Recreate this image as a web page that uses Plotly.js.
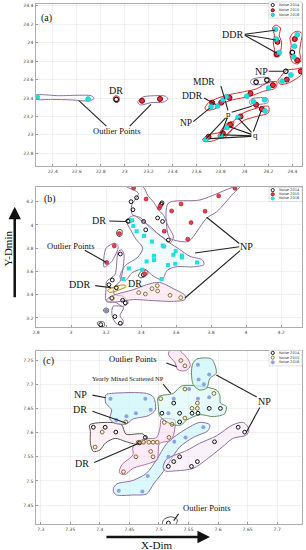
<!DOCTYPE html>
<html><head><meta charset="utf-8">
<script src="https://cdn.plot.ly/plotly-3.0.1.min.js"></script>
<style>html,body{margin:0;padding:0;background:#fff}#chart{width:306px;height:550px}</style>
</head><body><div id="chart"></div>
<script>
// ---------- Panel (a) data ----------
const aX2014 = [22.93, 24.40, 24.345, 24.097, 24.187];
const aY2014 = [23.385, 23.895, 23.69, 23.573, 23.595];
const aX2015 = [23.145, 23.295, 24.275, 24.27, 24.42, 24.44, 24.47, 24.353, 24.237, 24.05, 23.875, 24.097, 23.806, 23.73, 24.145, 23.967, 23.88, 23.82, 23.70];
const aY2015 = [23.37, 23.39, 24.01, 23.876, 24.04, 23.81, 23.69, 23.6, 23.54, 23.45, 23.403, 23.327, 23.35, 23.35, 23.28, 23.2, 23.11, 23.017, 22.98];
const aX2016 = [22.27, 22.695, 24.258, 24.264, 24.29, 24.44, 24.417, 24.41, 24.387, 24.314, 24.2, 24.02, 23.848, 23.82, 24.075, 24.167, 23.775, 23.72, 24.172, 23.945, 23.853, 23.806, 23.678];
const aY2016 = [23.41, 23.39, 24.144, 24.04, 23.895, 24.086, 23.963, 23.847, 23.65, 23.584, 23.51, 23.42, 23.414, 23.38, 23.36, 23.38, 23.313, 23.305, 23.26, 23.19, 23.08, 22.988, 22.95];
const aTicksX = [22.4, 22.6, 22.8, 23, 23.2, 23.4, 23.6, 23.8, 24, 24.2, 24.4];
const aTicksY = [22.8, 23, 23.2, 23.4, 23.6, 23.8, 24, 24.2, 24.4];

// ---------- Panel (b) data ----------
const bX2014 = [3.375, 3.343, 3.354, 3.326, 3.415, 3.427, 3.495, 3.523, 3.516, 3.556, 3.282, 3.217, 3.236, 3.259, 3.233, 3.295, 3.31, 3.251, 3.282, 3.17, 3.413, 3.52];
const bY2014 = [4.234, 4.2, 4.131, 4.032, 4.03, 3.958, 4.06, 4.03, 4.178, 3.87, 3.75, 3.486, 3.526, 3.46, 3.37, 3.352, 3.33, 3.212, 3.155, 3.143, 3.572, 4.19];
const bX2015 = [3.358, 3.429, 3.505, 3.575, 3.629, 3.766, 3.686, 3.533, 3.667, 3.844, 3.937, 3.276, 3.247, 3.204, 3.421, 3.51];
const bY2015 = [4.317, 4.223, 4.146, 4.12, 4.18, 4.118, 4.02, 3.946, 3.878, 4.25, 4.315, 3.926, 3.82, 3.677, 3.58, 4.165];
const bX2016 = [3.349, 3.356, 3.375, 3.417, 3.463, 3.524, 3.532, 3.598, 3.634, 3.634, 3.585, 3.474, 3.474, 3.432, 3.554, 3.596, 3.72, 3.33, 3.406, 3.299, 3.518];
const bY2016 = [4.04, 3.992, 3.946, 3.906, 3.857, 3.823, 3.815, 3.775, 3.737, 3.72, 3.743, 3.735, 3.698, 3.686, 3.655, 3.666, 3.677, 3.626, 3.615, 3.535, 3.535];
const bXolive = [3.493, 3.463, 3.495, 3.387, 3.425, 3.566, 3.627, 3.236];
const bYolive = [3.478, 3.452, 3.432, 3.418, 3.406, 3.395, 3.375, 3.37];
const bXblue = [3.2];
const bYblue = [3.263];
const bTicksX = [2.8, 3, 3.2, 3.4, 3.6, 3.8, 4, 4.2];
const bTicksY = [3.2, 3.4, 3.6, 3.8, 4, 4.2];

// ---------- Panel (c) data ----------
const cX2014 = [7.389, 7.409, 7.427, 7.477, 7.467, 7.535, 7.634, 7.645, 7.594, 7.535, 7.525, 7.516, 7.565, 7.555, 7.516, 7.525, 7.505, 7.535, 7.556, 7.566, 7.585, 7.604];
const cY2014 = [7.611, 7.611, 7.601, 7.59, 7.579, 7.622, 7.611, 7.601, 7.581, 7.55, 7.54, 7.53, 7.54, 7.53, 7.413, 7.661, 7.64, 7.64, 7.64, 7.64, 7.65, 7.65];
const cX2015 = [7.404, 7.392, 7.465, 7.474, 7.483, 7.49, 7.497, 7.486, 7.49, 7.461, 7.44, 7.509, 7.522, 7.517, 7.537, 7.544, 7.544, 7.593, 7.556, 7.565, 7.565, 7.544, 7.503, 7.444];
const cY2015 = [7.601, 7.57, 7.58, 7.58, 7.58, 7.58, 7.58, 7.561, 7.55, 7.55, 7.519, 7.621, 7.617, 7.59, 7.749, 7.738, 7.69, 7.681, 7.65, 7.661, 7.65, 7.63, 7.67, 7.622];
const cX2016 = [7.418, 7.477, 7.486, 7.461, 7.445, 7.428, 7.525, 7.551, 7.566, 7.585, 7.566, 7.585, 7.567, 7.576, 7.516, 7.575, 7.545, 7.526, 7.516, 7.481, 7.432, 7.472];
const cY2016 = [7.67, 7.67, 7.647, 7.64, 7.634, 7.626, 7.67, 7.69, 7.67, 7.673, 7.74, 7.72, 7.71, 7.7, 7.64, 7.611, 7.59, 7.581, 7.55, 7.51, 7.48, 7.478];
const cTicksX = [7.3, 7.35, 7.4, 7.45, 7.5, 7.55, 7.6, 7.65, 7.7];
const cTicksY = [7.45, 7.5, 7.55, 7.6, 7.65, 7.7, 7.75];

const legendNames = ['Noise 2014', 'Noise 2015', 'Noise 2016'];

// ---------- Cluster outlines (data units) ----------
const aOutlineLeft = [[22.26,23.43],[22.45,23.425],[22.62,23.43],[22.72,23.425],[22.745,23.395],[22.70,23.37],[22.55,23.38],[22.40,23.385],[22.26,23.39]];
const aOutlineDR = [[22.905,23.385],[22.91,23.415],[22.93,23.425],[22.952,23.41],[22.956,23.38],[22.945,23.355],[22.92,23.355]];
const aOutlineMid = [[23.11,23.36],[23.15,23.41],[23.25,23.425],[23.34,23.42],[23.36,23.385],[23.32,23.355],[23.22,23.35],[23.13,23.325]];
const aOutlineDDR1 = [[24.235,24.165],[24.265,24.19],[24.30,24.16],[24.29,24.08],[24.31,24.0],[24.30,23.9],[24.29,23.85],[24.25,23.85],[24.25,23.93],[24.24,24.0],[24.25,24.08]];
const aOutlineDDR2 = [[24.40,24.1],[24.44,24.125],[24.48,24.1],[24.47,24.0],[24.46,23.9],[24.47,23.8],[24.44,23.77],[24.40,23.79],[24.38,23.88],[24.39,23.97],[24.38,24.05]];
const aOutlineNP = [[24.295,23.62],[24.35,23.70],[24.43,23.715],[24.48,23.725],[24.48,23.66],[24.42,23.6],[24.36,23.56],[24.30,23.55],[24.28,23.59]];
const aOutlineSmall1 = [[24.06,23.6],[24.15,23.625],[24.21,23.615],[24.215,23.575],[24.15,23.55],[24.07,23.545],[24.05,23.57]];
const aOutlineBand1 = [[23.67,23.29],[23.70,23.35],[23.78,23.40],[23.85,23.43],[24.0,23.47],[24.1,23.50],[24.2,23.57],[24.27,23.575],[24.26,23.51],[24.15,23.47],[24.05,23.42],[23.9,23.38],[23.80,23.33],[23.75,23.28],[23.68,23.27]];
const aOutlineSmall2 = [[24.04,23.36],[24.07,23.395],[24.19,23.395],[24.195,23.35],[24.12,23.33],[24.06,23.32]];
const aOutlineBand2 = [[23.65,22.95],[23.70,23.0],[23.80,23.03],[23.90,23.14],[23.98,23.23],[24.10,23.29],[24.2,23.31],[24.2,23.24],[24.1,23.2],[24.0,23.16],[23.9,23.06],[23.82,22.98],[23.72,22.93],[23.66,22.93]];
const aOutlineBand3 = [[23.78,22.98],[23.80,23.04],[23.86,23.13],[23.91,23.14],[23.89,23.05],[23.83,22.97]];

const bOutlineRed = [[3.937,4.33],[3.737,4.215],[3.556,4.187],[3.547,3.986],[3.566,3.886],[3.67,3.857],[3.699,3.9],[3.775,4.058],[3.833,4.114],[3.927,4.27],[3.966,4.33]];
const bOutlineTop = [[3.318,4.33],[3.385,4.272],[3.347,4.17],[3.35,4.09],[3.40,4.06],[3.44,3.99],[3.47,3.95],[3.52,3.90],[3.57,3.85],[3.585,3.9],[3.555,3.99],[3.53,4.08],[3.50,4.13],[3.47,4.2],[3.44,4.25],[3.41,4.33]];
const bOutlineCyan = [[3.33,4.06],[3.36,4.08],[3.40,4.04],[3.45,3.99],[3.50,3.92],[3.56,3.85],[3.62,3.79],[3.68,3.73],[3.75,3.70],[3.76,3.66],[3.70,3.64],[3.60,3.64],[3.55,3.61],[3.52,3.53],[3.47,3.56],[3.42,3.62],[3.35,3.59],[3.31,3.52],[3.28,3.55],[3.31,3.65],[3.38,3.72],[3.41,3.80],[3.37,3.88],[3.34,3.96],[3.32,4.02]];
const bOutlineOutlier = [[3.189,3.638],[3.2,3.8],[3.251,3.843],[3.27,3.814],[3.233,3.686],[3.207,3.652]];
const bOutlineChain = [[3.27,3.771],[3.251,3.572],[3.204,3.515],[3.2,3.443],[3.2,3.349],[3.251,3.338],[3.295,3.3],[3.327,3.329],[3.299,3.386],[3.251,3.4],[3.242,3.458],[3.28,3.515],[3.303,3.743],[3.29,3.786]];
const bOutlineLow = [[3.24,3.30],[3.235,3.22],[3.26,3.15],[3.29,3.14],[3.30,3.17],[3.28,3.22],[3.30,3.29]];
const bOutlineLow2 = [[3.15,3.16],[3.16,3.13],[3.19,3.13],[3.19,3.16],[3.17,3.17]];
const bOutlineBlue = [[3.185,3.27],[3.2,3.285],[3.215,3.275],[3.212,3.25],[3.195,3.245]];
const bOutlineOlive = [[3.204,3.358],[3.242,3.395],[3.356,3.443],[3.432,3.486],[3.505,3.506],[3.585,3.452],[3.651,3.395],[3.651,3.358],[3.585,3.343],[3.47,3.349],[3.356,3.358],[3.261,3.338],[3.207,3.338]];
const bOutlineDDR = [[3.21,3.44],[3.30,3.485],[3.315,3.47],[3.22,3.42]];
const bOutlineDR1 = [[3.31,4.03],[3.32,4.05],[3.345,4.05],[3.35,4.03],[3.33,4.015]];
const bOutlineDR2 = [[3.26,3.93],[3.27,3.96],[3.29,3.955],[3.29,3.91],[3.27,3.9]];
const bOutlineDR3 = [[3.385,3.56],[3.40,3.60],[3.43,3.61],[3.44,3.585],[3.42,3.555],[3.40,3.545]];

const cOutlineNPleft = [[7.41,7.678],[7.42,7.681],[7.479,7.681],[7.491,7.673],[7.494,7.647],[7.482,7.635],[7.456,7.628],[7.445,7.618],[7.426,7.619],[7.417,7.628],[7.42,7.647],[7.41,7.661]];
const cOutlineDRleft = [[7.383,7.616],[7.417,7.621],[7.437,7.616],[7.444,7.597],[7.473,7.597],[7.48,7.585],[7.468,7.575],[7.445,7.581],[7.426,7.588],[7.41,7.579],[7.4,7.564],[7.389,7.561],[7.384,7.578],[7.384,7.602]];
const cOutlineMixed = [[7.499,7.674],[7.524,7.681],[7.538,7.696],[7.569,7.696],[7.597,7.688],[7.603,7.678],[7.604,7.661],[7.614,7.654],[7.611,7.639],[7.592,7.633],[7.569,7.637],[7.547,7.626],[7.538,7.616],[7.524,7.616],[7.502,7.633],[7.499,7.654]];
const cOutlineDRmid = [[7.504,7.628],[7.527,7.626],[7.527,7.609],[7.521,7.585],[7.501,7.577],[7.497,7.544],[7.485,7.537],[7.456,7.526],[7.442,7.513],[7.433,7.517],[7.437,7.533],[7.456,7.554],[7.456,7.57],[7.473,7.586],[7.496,7.59],[7.502,7.612]];
const cOutlineCyan = [[7.423,7.485],[7.429,7.494],[7.456,7.501],[7.479,7.516],[7.496,7.544],[7.513,7.577],[7.535,7.599],[7.569,7.621],[7.586,7.616],[7.583,7.604],[7.558,7.59],[7.535,7.57],[7.52,7.544],[7.507,7.519],[7.491,7.494],[7.479,7.473],[7.456,7.471],[7.428,7.471],[7.423,7.478]];
const cOutlineNPright = [[7.507,7.529],[7.513,7.545],[7.547,7.563],[7.569,7.578],[7.597,7.593],[7.625,7.616],[7.643,7.621],[7.652,7.607],[7.648,7.595],[7.625,7.588],[7.608,7.571],[7.58,7.544],[7.558,7.526],[7.53,7.521],[7.51,7.521]];
const cOutlineTopNP = [[7.557,7.742],[7.564,7.752],[7.589,7.752],[7.597,7.723],[7.586,7.712],[7.581,7.692],[7.569,7.688],[7.558,7.699],[7.555,7.723]];
const cOutlineTopOut = [[7.52,7.772],[7.532,7.772],[7.55,7.75],[7.553,7.738],[7.545,7.728],[7.532,7.73],[7.527,7.745],[7.516,7.762]];
const cOutlineBottom = [[7.506,7.41],[7.508,7.42],[7.52,7.426],[7.531,7.42],[7.528,7.41]];

// ---------- build ----------
const SERIF = 'Liberation Serif, Times New Roman, serif';
const traces = [];
function outline(pts, xa, ya, color, fillc) {
  const xs = pts.map(p => p[0]); const ys = pts.map(p => p[1]);
  xs.push(pts[0][0]); ys.push(pts[0][1]);
  traces.push({type:'scatter', mode:'lines', x:xs, y:ys, xaxis:xa, yaxis:ya,
    line:{color:color, width:1, shape:'spline', smoothing:0.8},
    fill: fillc ? 'toself' : 'none', fillcolor: fillc || 'rgba(0,0,0,0)',
    hoverinfo:'skip', showlegend:false});
}
function pts(x, y, xa, ya, name, marker) {
  traces.push({type:'scatter', mode:'markers', x:x, y:y, xaxis:xa, yaxis:ya, name:name,
    marker:marker, showlegend:false, cliponaxis:true});
}
const PUR = '#8f6f9f', RED = '#e02828', GRN = '#5f8f5f', GRY = '#555555', MAG = '#b06fa8';

// panel a outlines
outline(aOutlineLeft,'x','y',PUR);
outline(aOutlineDR,'x','y',RED);
outline(aOutlineMid,'x','y',PUR);
outline(aOutlineDDR1,'x','y',RED);
outline(aOutlineDDR2,'x','y',RED);
outline(aOutlineNP,'x','y',RED);
outline(aOutlineSmall1,'x','y',PUR);
outline(aOutlineBand1,'x','y',RED);
outline(aOutlineSmall2,'x','y',PUR);
outline(aOutlineBand2,'x','y',RED);
outline(aOutlineBand3,'x','y',RED);
// panel b outlines
outline(bOutlineRed,'x2','y2',PUR);
outline(bOutlineTop,'x2','y2',PUR);
outline(bOutlineCyan,'x2','y2',PUR,'rgba(230,250,252,0.5)');
outline(bOutlineOutlier,'x2','y2',PUR);
outline(bOutlineChain,'x2','y2',PUR);
outline(bOutlineLow,'x2','y2',PUR);
outline(bOutlineLow2,'x2','y2',GRY);
outline(bOutlineBlue,'x2','y2',GRY,'rgba(170,190,230,0.5)');
outline(bOutlineOlive,'x2','y2',PUR,'rgba(250,220,235,0.55)');
outline(bOutlineDDR,'x2','y2','#b8860b','rgba(250,230,180,0.5)');
outline(bOutlineDR1,'x2','y2',GRY);
outline(bOutlineDR2,'x2','y2',GRY);
outline(bOutlineDR3,'x2','y2',GRY);
// panel c outlines
outline(cOutlineCyan,'x3','y3',PUR,'rgba(200,245,250,0.65)');
outline(cOutlineNPright,'x3','y3',PUR,'rgba(245,230,245,0.5)');
outline(cOutlineDRleft,'x3','y3',GRY,'rgba(252,232,240,0.6)');
outline(cOutlineDRmid,'x3','y3',MAG,'rgba(252,220,240,0.6)');
outline(cOutlineNPleft,'x3','y3',PUR,'rgba(200,245,250,0.7)');
outline(cOutlineMixed,'x3','y3',GRN,'rgba(215,248,245,0.6)');
outline(cOutlineTopNP,'x3','y3',GRN,'rgba(200,245,250,0.7)');
outline(cOutlineTopOut,'x3','y3',MAG,'rgba(252,220,240,0.6)');
outline(cOutlineBottom,'x3','y3',GRY);

// markers
const m14 = {symbol:'circle-open', size:4.5, color:'#111', line:{width:1.2}};
const mA15 = {symbol:'circle', size:5, color:'#e8303a', line:{color:'#7a0010', width:1}};
const mA16 = {symbol:'circle', size:5, color:'#19e3e0', line:{color:'#10b8b8', width:0.5}};
pts(aX2014,aY2014,'x','y',legendNames[0],m14);
pts(aX2015,aY2015,'x','y',legendNames[1],mA15);
pts(aX2016,aY2016,'x','y',legendNames[2],mA16);
const m14s = {symbol:'circle-open', size:3.8, color:'#111', line:{width:1}};
pts(bX2014,bY2014,'x2','y2',legendNames[0],m14s);
pts(bX2015,bY2015,'x2','y2',legendNames[1],{symbol:'circle', size:4, color:'#e8404a', line:{color:'#a01020', width:0.6}});
pts(bX2016,bY2016,'x2','y2',legendNames[2],{symbol:'square', size:4, color:'#20e0e0', line:{width:0}});
pts(bXolive,bYolive,'x2','y2','olive',{symbol:'circle-open', size:3.8, color:'#8a7a30', line:{width:1}});
pts(bXblue,bYblue,'x2','y2','blue',{symbol:'circle', size:4, color:'#8090c0', line:{width:0}});
pts(cX2014,cY2014,'x3','y3',legendNames[0],m14s);
pts(cX2015,cY2015,'x3','y3',legendNames[1],{symbol:'circle-open', size:3.8, color:'#8a6a25', line:{width:1}});
pts(cX2016,cY2016,'x3','y3',legendNames[2],{symbol:'circle', size:4, color:'#8ea0e6', line:{width:0}});

// axes
function ax(domain, range, ticks, anchor) {
  return {domain:domain, range:range, anchor:anchor, tickmode:'array', tickvals:ticks,
    ticktext:ticks.map(String), tickfont:{size:4.5, color:'#444', family:'DejaVu Sans'},
    showgrid:true, gridcolor:'#e6e6e6', gridwidth:0.6, zeroline:false,
    showline:true, linecolor:'#999', linewidth:0.8, mirror:true,
    ticks:'inside', ticklen:2, tickcolor:'#999', ticklabelstandoff:1};
}
const layout = {
  width:306, height:550, paper_bgcolor:'#fff', plot_bgcolor:'#fff',
  margin:{l:36, r:4, t:4, b:26}, showlegend:false, hovermode:false,
  xaxis: ax([0,1],[22.26,24.48],aTicksX,'y'),
  yaxis: ax([0.688,1],[22.66,24.42],aTicksY,'x'),
  xaxis2: ax([0,1],[2.8,4.32],bTicksX,'y2'),
  yaxis2: ax([0.379,0.648],[3.123,4.326],bTicksY,'x2'),
  xaxis3: ax([0,1],[7.292,7.742],cTicksX,'y3'),
  yaxis3: ax([0,0.333],[7.411,7.769],cTicksY,'x3'),
  annotations: [], shapes: []
};
const A = layout.annotations;
function label(text, x, y, xr, yr, size) {
  A.push({text:text, x:x, y:y, xref:xr, yref:yr, showarrow:false, xanchor:'center', yanchor:'middle', font:{family:SERIF, size:size||10, color:'#111'}});
}
function line(tx, ty, hx, hy, xr, yr) {
  A.push({text:'', x:hx, y:hy, xref:xr, yref:yr, ax:tx, ay:ty, axref:xr, ayref:yr,
    showarrow:true, arrowhead:0, arrowwidth:1.1, arrowcolor:'#222', standoff:0, startstandoff:0});
}
// panel a labels
label('(a)',22.35,24.27,'x','y',10);
label('DDR',23.9,24.09,'x','y',10);
line(23.99,24.09,24.255,24.135,'x','y'); line(23.99,24.09,24.262,24.03,'x','y'); line(23.99,24.09,24.27,23.885,'x','y');
label('NP',24.14,23.69,'x','y',10); line(24.19,23.69,24.33,23.69,'x','y');
label('MDR',23.66,23.57,'x','y',9.5); line(23.80,23.545,23.835,23.39,'x','y');
label('DDR',23.567,23.425,'x','y',9.5); line(23.65,23.41,23.76,23.33,'x','y');
label('NP',23.51,23.125,'x','y',9.5); line(23.56,23.13,23.71,23.29,'x','y');
label('p',23.867,23.225,'x','y',9);
line(23.88,23.24,24.06,23.31,'x','y'); line(23.855,23.2,23.68,22.96,'x','y'); line(23.86,23.2,23.80,22.99,'x','y'); line(23.865,23.25,23.84,23.37,'x','y');
label('q',24.09,23.0,'x','y',9);
line(24.07,23.02,24.14,23.265,'x','y'); line(24.07,23.01,23.95,23.18,'x','y'); line(24.07,23.0,23.87,23.09,'x','y'); line(24.07,22.99,23.82,23.0,'x','y'); line(24.07,22.985,23.71,22.96,'x','y');
label('DR',22.93,23.48,'x','y',10);
label('Outlier Points',22.93,23.04,'x','y',8.5);
line(22.86,23.08,22.62,23.37,'x','y'); line(23.03,23.08,23.22,23.33,'x','y');
// panel b labels
label('(b)',2.88,4.22,'x2','y2',10);
label('DR',3.16,4.035,'x2','y2',10); line(3.21,4.035,3.315,4.03,'x2','y2');
label('Outlier Points',2.998,3.823,'x2','y2',8.5); line(3.07,3.79,3.2,3.68,'x2','y2');
label('NP',4.004,3.814,'x2','y2',10);
line(3.97,3.83,3.775,4.066,'x2','y2'); line(3.97,3.814,3.709,3.758,'x2','y2'); line(3.975,3.79,3.651,3.372,'x2','y2');
label('DDR',3.051,3.486,'x2','y2',10); line(3.13,3.48,3.23,3.46,'x2','y2');
label('DR',3.366,3.50,'x2','y2',10);
// panel c labels
label('(c)',7.313,7.748,'x3','y3',10);
label('Outlier Points',7.455,7.752,'x3','y3',8.5); line(7.51,7.745,7.53,7.736,'x3','y3');
label('Yearly Mixed Scattered NP',7.448,7.711,'x3','y3',6.5); line(7.505,7.703,7.52,7.681,'x3','y3');
label('NP',7.368,7.678,'x3','y3',10); line(7.385,7.678,7.41,7.672,'x3','y3');
label('DR',7.366,7.647,'x3','y3',10); line(7.385,7.645,7.444,7.62,'x3','y3');
label('DR',7.369,7.537,'x3','y3',10); line(7.388,7.537,7.466,7.578,'x3','y3');
label('NP',7.679,7.664,'x3','y3',10);
line(7.668,7.672,7.597,7.719,'x3','y3'); line(7.672,7.655,7.648,7.601,'x3','y3');
label('Outlier Points',7.58,7.445,'x3','y3',8.5); line(7.535,7.435,7.525,7.418,'x3','y3');

// axis captions with arrows (paper coords)
A.push({text:'Y-Dmin', x:-0.105, y:0.53, xref:'paper', yref:'paper', xanchor:'center', yanchor:'middle', showarrow:false, textangle:-90, font:{family:SERIF, size:11, color:'#111'}});
A.push({text:'', x:-0.080, y:0.610, xref:'paper', yref:'paper', ax:0, ay:92, showarrow:true, arrowhead:2, arrowsize:1, arrowwidth:2.5, arrowcolor:'#111', standoff:0});
A.push({text:'X-Dim', x:0.454, y:-0.041, xref:'paper', yref:'paper', xanchor:'center', yanchor:'middle', showarrow:false, font:{family:SERIF, size:11, color:'#111'}});
A.push({text:'', x:0.654, y:-0.025, xref:'paper', yref:'paper', ax:-105, ay:0, showarrow:true, arrowhead:2, arrowsize:1, arrowwidth:2.5, arrowcolor:'#111', standoff:0});

// legends (one per panel)
const legendRows = [[0.998,0.988,0.979],[0.642,0.634,0.626],[0.329,0.320,0.311]];
const legendBoxes = [[0.876,1.0,0.973,1.004],[0.876,1.0,0.620,0.647],[0.876,1.0,0.304,0.334]];
const legendColors = [
  [['#111','#fff'],['#7a0010','#e8303a'],['#10b8b8','#19e3e0']],
  [['#111','#fff'],['#a01020','#e8404a'],['#20e0e0','#20e0e0']],
  [['#111','#fff'],['#8a6a25','#fff'],['#8ea0e6','#8ea0e6']]];
legendBoxes.forEach((b,i) => {
  layout.shapes.push({type:'rect', xref:'paper', yref:'paper', x0:b[0], x1:b[1], y0:b[2], y1:b[3], fillcolor:'#fff', line:{color:'#ccc', width:0.6}});
  legendRows[i].forEach((yy,k) => {
    layout.shapes.push({type:'circle', xref:'paper', yref:'paper', xsizemode:'pixel', ysizemode:'pixel',
      xanchor:0.89, yanchor:yy, x0:-1.6, x1:1.6, y0:-1.6, y1:1.6,
      fillcolor:legendColors[i][k][1], line:{color:legendColors[i][k][0], width:0.9}});
    A.push({text:legendNames[k], x:0.905, y:yy, xref:'paper', yref:'paper', xanchor:'left', yanchor:'middle', showarrow:false, font:{size:3.6, color:'#333', family:'DejaVu Sans'}});
  });
});

Plotly.newPlot('chart', traces, layout, {staticPlot:true, displayModeBar:false});
</script></body></html>
